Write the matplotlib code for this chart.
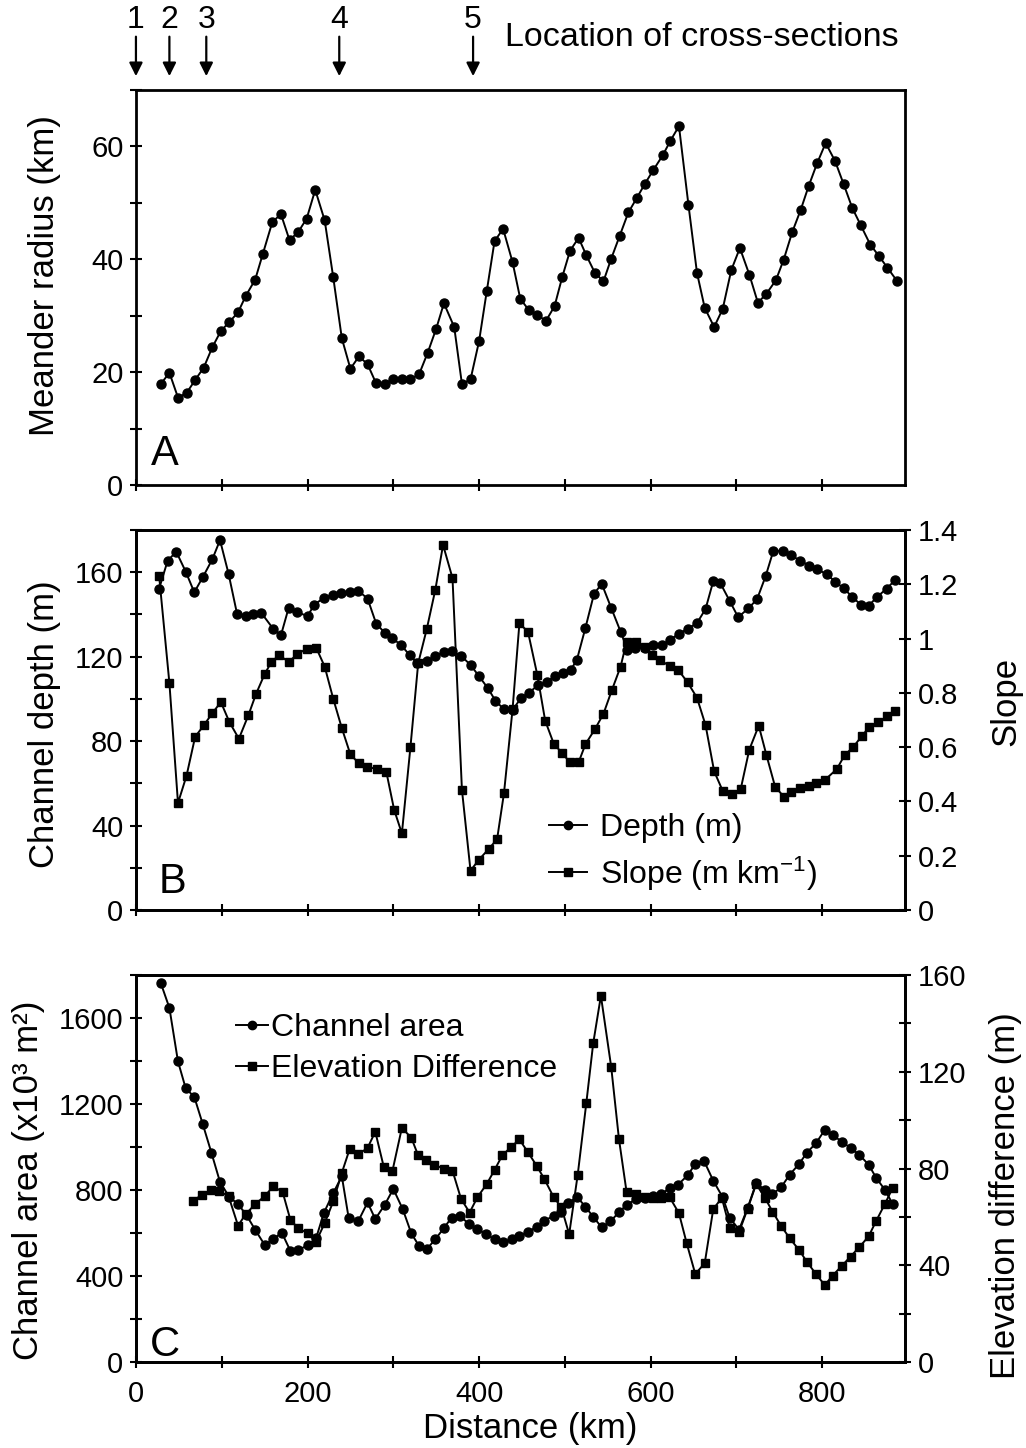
import matplotlib
matplotlib.use("Agg")
import matplotlib.pyplot as plt
from matplotlib import font_manager
from matplotlib.ticker import MultipleLocator, FuncFormatter
from matplotlib.lines import Line2D
import matplotlib.transforms as mtransforms

# ---------------- data ----------------
section_km = [0, 39, 82, 237, 393]
section_labels = ["1", "2", "3", "4", "5"]

a_km = [29, 39, 49, 59, 69, 79, 89, 99, 109, 119, 128, 139, 148, 159, 169, 179, 189, 199, 209, 220,
        230, 240, 250, 260, 270, 280, 290, 300, 310, 319, 330, 340, 350, 359, 371, 380, 390, 400, 409, 418,
        428, 439, 448, 458, 468, 478, 488, 497, 506, 516, 525, 535, 545, 554, 564, 574, 584, 593, 603, 614,
        623, 633, 644, 654, 663, 674, 684, 694, 704, 715, 725, 735, 746, 755, 765, 775, 784, 794, 804, 815,
        825, 835, 845, 856, 866, 876, 887]
a_radius = [17.9, 19.9, 15.5, 16.3, 18.6, 20.8, 24.4, 27.3, 28.9, 30.6, 33.5, 36.4, 41.0, 46.6, 48.0, 43.4, 44.8, 47.2, 52.3, 46.9,
            36.8, 26.0, 20.6, 22.8, 21.4, 18.0, 17.9, 18.8, 18.7, 18.7, 19.6, 23.4, 27.7, 32.2, 28.0, 17.9, 18.7, 25.5, 34.4, 43.2,
            45.4, 39.5, 33.0, 31.0, 30.1, 29.1, 31.7, 36.9, 41.5, 43.8, 40.7, 37.6, 36.1, 40.1, 44.2, 48.3, 50.9, 53.3, 55.8, 58.4,
            61.0, 63.6, 49.7, 37.6, 31.4, 28.0, 31.2, 38.1, 42.0, 37.3, 32.3, 33.9, 36.3, 39.9, 44.8, 48.8, 52.9, 57.0, 60.6, 57.4,
            53.3, 49.1, 46.0, 42.6, 40.6, 38.5, 36.2]

b_depth_km = [27, 37, 47, 58, 68, 78, 89, 98, 108, 118, 128, 136, 146, 160, 169, 178, 188, 200, 208, 219,
              230, 239, 250, 259, 270, 280, 290, 299, 309, 319, 328, 339, 349, 359, 368, 379, 390, 400, 410, 419,
              429, 439, 449, 458, 469, 479, 488, 498, 507, 514, 524, 534, 543, 554, 565, 573, 582, 593, 603, 613,
              623, 633, 643, 654, 664, 673, 681, 692, 702, 714, 724, 734, 743, 754, 764, 774, 785, 794, 805, 815,
              825, 835, 845, 854, 864, 875, 885]
b_depth = [152.2, 165.5, 169.7, 160.3, 150.5, 157.7, 166.1, 175.2, 159.2, 140.0, 139.2, 140.3, 140.8, 133.2, 130.1, 143.1, 141.1, 139.2, 144.7, 147.8,
           149.4, 150.2, 150.5, 151.3, 147.5, 135.7, 131.3, 128.7, 125.5, 120.8, 116.9, 118.0, 120.1, 122.4, 122.7, 120.4, 116.1, 110.7, 105.2, 99.2,
           95.0, 94.7, 100.5, 102.8, 106.7, 108.0, 110.7, 112.2, 113.8, 118.5, 133.7, 149.8, 154.5, 143.1, 131.8, 123.2, 124.0, 124.3, 125.5, 125.4,
           128.1, 130.9, 133.2, 135.9, 142.6, 155.8, 155.0, 146.5, 138.7, 142.9, 147.2, 158.1, 170.1, 170.1, 168.0, 165.5, 163.1, 161.3, 159.2, 155.5,
           152.4, 148.3, 144.6, 144.1, 148.3, 152.2, 156.3]

b_slope_km = [27, 39, 49, 59, 69, 79, 89, 99, 109, 120, 131, 140, 150, 158, 167, 178, 188, 199, 210, 220,
              230, 240, 250, 260, 269, 281, 292, 301, 310, 320, 329, 339, 349, 358, 369, 380, 390, 400, 411, 421,
              429, 439, 447, 457, 468, 477, 487, 497, 506, 516, 524, 535, 545, 555, 565, 572, 583, 593, 602, 611,
              622, 632, 643, 654, 664, 674, 684, 695, 705, 715, 726, 735, 745, 755, 764, 774, 784, 793, 803, 817,
              826, 836, 846, 855, 865, 876, 885]
b_slope = [1.231, 0.836, 0.394, 0.495, 0.638, 0.680, 0.725, 0.766, 0.692, 0.631, 0.717, 0.796, 0.869, 0.914, 0.939, 0.914, 0.942, 0.963, 0.967, 0.897,
           0.778, 0.670, 0.573, 0.540, 0.528, 0.519, 0.507, 0.369, 0.282, 0.601, 0.909, 1.035, 1.180, 1.345, 1.223, 0.443, 0.145, 0.186, 0.224, 0.261,
           0.430, 0.739, 1.056, 1.025, 0.864, 0.698, 0.613, 0.577, 0.544, 0.544, 0.611, 0.666, 0.723, 0.812, 0.897, 0.989, 0.986, 0.970, 0.939, 0.921,
           0.899, 0.885, 0.839, 0.782, 0.681, 0.511, 0.439, 0.427, 0.446, 0.591, 0.679, 0.570, 0.455, 0.418, 0.436, 0.448, 0.458, 0.467, 0.479, 0.519,
           0.570, 0.600, 0.640, 0.675, 0.691, 0.713, 0.733]

c_area_km = [29, 39, 49, 58, 68, 78, 88, 98, 109, 119, 129, 139, 150, 160, 170, 180, 189, 200, 210, 219,
             230, 240, 248, 259, 270, 279, 290, 300, 311, 321, 330, 339, 349, 359, 368, 378, 388, 398, 408, 418,
             428, 438, 447, 457, 467, 476, 487, 496, 504, 514, 524, 533, 543, 553, 563, 572, 583, 593, 603, 612,
             622, 632, 643, 652, 662, 673, 684, 692, 703, 713, 723, 733, 742, 752, 762, 773, 782, 793, 803, 812,
             823, 833, 843, 854, 863, 873, 882]
c_area = [1762, 1647, 1398, 1273, 1233, 1105, 973, 837, 766, 735, 682, 615, 545, 571, 602, 517, 521, 542, 576, 693,
          786, 864, 669, 654, 742, 665, 731, 805, 711, 598, 540, 525, 571, 623, 672, 680, 641, 618, 595, 571,
          556, 571, 587, 605, 629, 657, 680, 696, 738, 769, 722, 675, 626, 654, 696, 731, 758, 765, 770, 780,
          808, 825, 868, 921, 937, 843, 766, 672, 615, 716, 832, 801, 781, 812, 871, 921, 973, 1019, 1080, 1055,
          1025, 995, 965, 918, 856, 801, 736]

c_elev_km = [67, 77, 88, 97, 108, 119, 128, 139, 150, 160, 171, 180, 189, 200, 210, 220, 230, 240, 249, 259,
             270, 279, 289, 299, 310, 321, 329, 338, 348, 359, 369, 379, 389, 398, 409, 418, 427, 437, 447, 457,
             467, 476, 487, 496, 505, 515, 525, 533, 542, 554, 563, 572, 583, 593, 603, 612, 622, 633, 642, 652,
             663, 673, 683, 692, 703, 713, 723, 733, 742, 752, 762, 773, 782, 793, 803, 812, 823, 833, 843, 854,
             863, 873, 882]
c_elev = [66.7, 69.2, 71.3, 70.8, 68.5, 56.4, 61.1, 65.3, 68.5, 72.6, 70.3, 58.8, 55.3, 53.3, 49.8, 57.4, 66.4, 78.2, 87.9, 85.8,
          88.5, 95.2, 80.5, 79.0, 96.8, 92.7, 85.4, 83.6, 81.6, 79.8, 79.1, 67.4, 61.8, 68.1, 73.6, 79.4, 85.4, 88.8, 92.0, 86.7,
          81.2, 75.7, 68.1, 63.9, 52.8, 77.5, 107.1, 131.7, 151.4, 122.0, 92.3, 70.1, 69.5, 68.2, 68.0, 68.0, 68.2, 61.5, 49.1, 36.4,
          40.8, 63.3, 67.8, 55.6, 53.7, 63.3, 73.6, 68.0, 62.2, 56.3, 51.2, 46.3, 41.5, 36.2, 31.8, 35.7, 39.8, 43.6, 47.4, 51.9,
          58.4, 65.3, 71.9]

x_ticklabels = [0, 200, 400, 600, 800]

# ---------------- fonts ----------------
names = {f.name for f in font_manager.fontManager.ttflist}
TXT = "Liberation Sans" if "Liberation Sans" in names else "DejaVu Sans"
NUM = "Liberation Sans Narrow" if "Liberation Sans Narrow" in names else TXT
num_size = 24 if NUM.endswith("Narrow") else 21
plt.rcParams['font.family'] = [TXT, 'DejaVu Sans']
plt.rcParams['mathtext.fontset'] = 'custom'
plt.rcParams['mathtext.rm'] = TXT
plt.rcParams['mathtext.it'] = TXT
LABEL = 25

fig = plt.figure(figsize=(10.26, 14.48), dpi=100)
L, W = 0.1325, 0.750
axA = fig.add_axes([L, 1 - 485 / 1448, W, 395 / 1448])
axB = fig.add_axes([L, 1 - 910 / 1448, W, 380 / 1448])
axC = fig.add_axes([L, 1 - 1362 / 1448, W, 387 / 1448])

line_kw = dict(color='k', lw=1.4)


def style(ax, labelbottom=False):
    for s in ax.spines.values():
        s.set_linewidth(2.0)
    ax.set_xlim(0, 897)
    ax.xaxis.set_major_locator(MultipleLocator(100))
    ax.tick_params(direction='inout', length=8, width=1.5, pad=5)
    ax.tick_params(axis='x', pad=9)
    if labelbottom:
        ax.xaxis.set_major_formatter(FuncFormatter(lambda v, p: f"{int(v)}" if int(round(v)) in x_ticklabels else ""))
    else:
        ax.tick_params(axis='x', labelbottom=False)
    for t in ax.get_xticklabels() + ax.get_yticklabels():
        t.set_fontfamily([NUM, TXT])
        t.set_fontsize(num_size)


def every_other(step):
    return FuncFormatter(lambda v, p: (f"{v:g}" if abs((v / step) - round(v / step)) < 1e-6 else ""))


def right_label(ax, text, y):
    ax.set_ylabel(text, fontsize=LABEL, rotation=90)
    ax.yaxis.set_label_coords(1.109, y)
    lab = ax.yaxis.label
    lab.set_rotation_mode('anchor')
    lab.set_va('top')
    lab.set_ha('center')


# ---------------- Panel A ----------------
axA.plot(a_km, a_radius, marker='o', ms=6.5, **line_kw)
axA.set_ylim(0, 70)
axA.yaxis.set_major_locator(MultipleLocator(10))
axA.yaxis.set_major_formatter(every_other(20))
style(axA)
axA.set_ylabel("Meander radius (km)", fontsize=LABEL)
axA.yaxis.set_label_coords(-0.098, 0.53)
axA.text(0.02, 0.05, "A", transform=axA.transAxes, fontsize=30, ha='left', va='baseline')

trans = mtransforms.blended_transform_factory(axA.transData, axA.transAxes)
for km, lab in zip(section_km, section_labels):
    axA.annotate("", xy=(km, 1.035), xytext=(km, 1.135), xycoords=trans, textcoords=trans,
                 arrowprops=dict(arrowstyle='-|>', color='k', lw=1.6, mutation_scale=20,
                                 shrinkA=0, shrinkB=0), annotation_clip=False)
    axA.text(km, 1.178, lab, transform=trans, ha='center', va='center',
             fontsize=num_size + 2, family=[NUM, TXT], clip_on=False)
axA.text(0.480, 1.133, "Location of cross-sections", transform=axA.transAxes,
         ha='left', va='center', fontsize=24.5, clip_on=False)

# ---------------- Panel B ----------------
axB2 = axB.twinx()
axB.plot(b_depth_km, b_depth, marker='o', ms=6.5, **line_kw)
axB2.plot(b_slope_km, b_slope, marker='s', ms=5.5, **line_kw)
axB.set_ylim(0, 180)
axB2.set_ylim(0, 1.4)
axB.yaxis.set_major_locator(MultipleLocator(20))
axB.yaxis.set_major_formatter(every_other(40))
axB2.yaxis.set_major_locator(MultipleLocator(0.2))
axB2.yaxis.set_major_formatter(FuncFormatter(lambda v, p: f"{round(v, 1):g}"))
style(axB)
style(axB2)
axB.set_ylabel("Channel depth (m)", fontsize=LABEL)
axB.yaxis.set_label_coords(-0.097, 0.49)
right_label(axB2, "Slope", 0.55)
axB.text(0.03, 0.045, "B", transform=axB.transAxes, fontsize=30, ha='left', va='baseline')
hB = [Line2D([], [], color='k', lw=1.4, marker='o', ms=6),
      Line2D([], [], color='k', lw=1.4, marker='s', ms=5.5)]
axB2.legend(hB, ["Depth (m)", r"Slope (m km$^{\mathregular{-1}}$)"], loc='lower left',
            bbox_to_anchor=(0.52, 0.012), frameon=False, fontsize=23, handlelength=1.2,
            handletextpad=0.4, labelspacing=0.35, borderaxespad=0)

# ---------------- Panel C ----------------
axC2 = axC.twinx()
axC.plot(c_area_km, c_area, marker='o', ms=6.5, **line_kw)
axC2.plot(c_elev_km, c_elev, marker='s', ms=5.5, **line_kw)
axC.set_ylim(0, 1800)
axC2.set_ylim(0, 160)
axC.yaxis.set_major_locator(MultipleLocator(200))
axC.yaxis.set_major_formatter(every_other(400))
axC2.yaxis.set_major_locator(MultipleLocator(20))
axC2.yaxis.set_major_formatter(every_other(40))
style(axC, labelbottom=True)
style(axC2, labelbottom=True)
axC2.tick_params(axis='x', labelbottom=False)
axC.set_ylabel("Channel area (x10³ m²)", fontsize=LABEL)
axC.yaxis.set_label_coords(-0.118, 0.47)
right_label(axC2, "Elevation difference (m)", 0.43)
axC.set_xlabel("Distance (km)", fontsize=LABEL)
axC.xaxis.set_label_coords(0.512, -0.171)
axC.xaxis.label.set_va('center')
axC.text(0.018, 0.015, "C", transform=axC.transAxes, fontsize=30, ha='left', va='baseline')
hC = [Line2D([], [], color='k', lw=1.4, marker='o', ms=6),
      Line2D([], [], color='k', lw=1.4, marker='s', ms=5.5)]
axC2.legend(hC, ["Channel area", "Elevation Difference"], loc='upper left',
            bbox_to_anchor=(0.113, 0.935), frameon=False, fontsize=23, handlelength=1.0,
            handletextpad=0.1, labelspacing=0.35, borderaxespad=0)

fig.savefig("out.png", dpi=100)
